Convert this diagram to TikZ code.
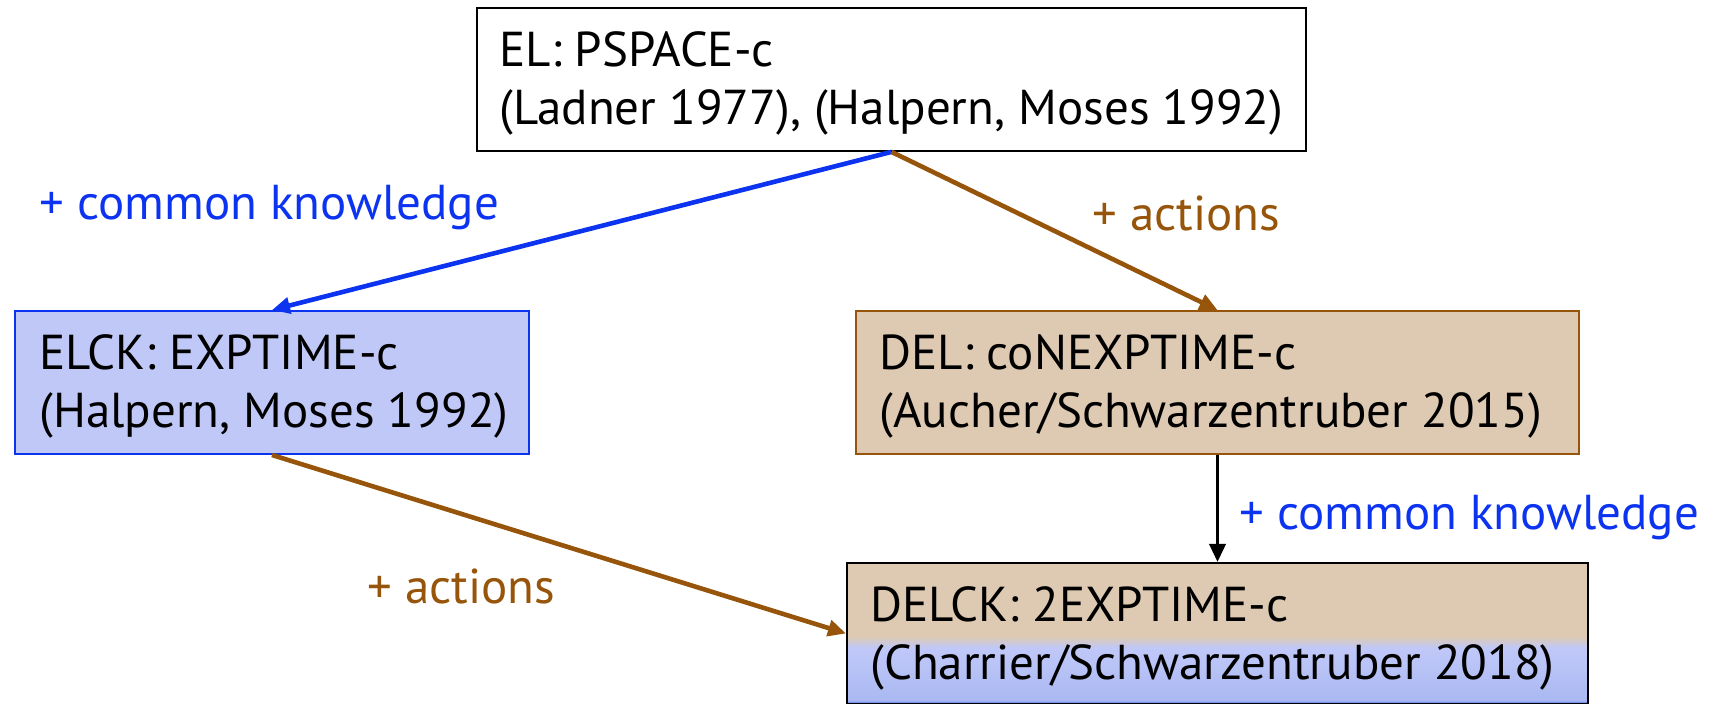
\documentclass[tikz,border=0pt]{standalone}
\usepackage{fontspec}
\setmainfont{PT Sans}
\usetikzlibrary{arrows.meta}
\definecolor{cblue}{RGB}{12,52,240}
\definecolor{cbrown}{RGB}{150,85,10}
\definecolor{ctan}{RGB}{222,202,178}
\definecolor{clblue}{RGB}{192,200,248}
\definecolor{cdblue}{RGB}{170,185,242}
\definecolor{cbblue}{RGB}{80,110,240}
\pgfdeclareverticalshading{delckshade}{100bp}{color(0bp)=(cbblue); color(25.3bp)=(cbblue); color(26.2bp)=(cdblue); color(45bp)=(clblue); color(49bp)=(ctan); color(100bp)=(ctan)}
\tikzset{
  box/.style={draw, rectangle, inner sep=0pt, minimum height=71.5pt},
  txt/.style={anchor=base west, inner sep=0pt, font=\fontsize{24.5}{29}\selectfont},
  conn/.style={line width=2.3pt, -{Triangle[length=9pt,width=8pt]}},
}
\begin{document}
\begin{tikzpicture}[x=0.5pt,y=-0.5pt]
\useasboundingbox (0,0) rectangle (1729,704);
% boxes
\node[box, line width=0.9pt, minimum width=414.5pt] (el) at (891.5,79.5) {};
\node[box, draw=cblue, fill=clblue, line width=1pt, minimum width=257pt] (elck) at (272,382.5) {};
\node[box, draw=cbrown, fill=ctan, line width=1pt, minimum width=361.5pt] (del) at (1217.5,382.5) {};
\node[box, line width=1pt, shading=delckshade, minimum width=370.5pt, minimum height=70.5pt] (delck) at (1217.5,633.5) {};
% texts
\node[txt] (elA) at (499,67) {EL: PSPACE-c};
\node[txt] (elB) at (499,125) {(Ladner 1977), (Halpern, Moses 1992)};
\node[txt] (elckA) at (39,370) {ELCK: EXPTIME-c};
\node[txt] (elckB) at (39,428) {(Halpern, Moses 1992)};
\node[txt] (delA) at (879,370) {DEL: coNEXPTIME-c};
\node[txt] (delB) at (879,428) {(Aucher/Schwarzentruber 2015)};
\node[txt] (delckA) at (870,622) {DELCK: 2EXPTIME-c};
\node[txt] (delckB) at (870,680) {(Charrier/Schwarzentruber 2018)};
% connectors
\draw[conn, cblue] (el.south) -- (elck.north);
\draw[conn, cbrown] (el.south) -- (del.north);
\draw[conn, black, line width=1.8pt] (del.south) -- (delck.north);
\draw[conn, cbrown] (elck.south) -- (delck.west);
% labels
\node[txt, text=cblue] (l1) at (39,220) {+ common knowledge};
\node[txt, text=cbrown] (l2) at (1092,231) {+ actions};
\node[txt, text=cblue] (l3) at (1239,530) {+ common knowledge};
\node[txt, text=cbrown] (l4) at (367,604) {+ actions};
\end{tikzpicture}
\end{document}
